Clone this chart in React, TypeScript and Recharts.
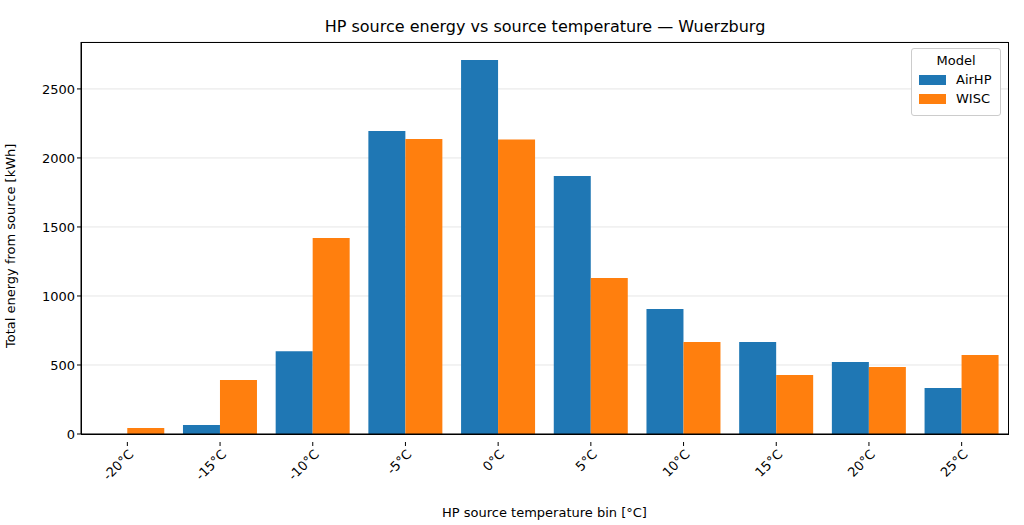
import React from "react";
import { BarChart, Bar, XAxis, YAxis, CartesianGrid } from "recharts";

const categories = ["-20°C", "-15°C", "-10°C", "-5°C", "0°C", "5°C", "10°C", "15°C", "20°C", "25°C"];
const airHP = [0, 65, 600, 2196, 2710, 1870, 906, 667, 522, 333];
const wisc = [43, 391, 1420, 2138, 2133, 1130, 667, 428, 486, 572];
const yTicks = [0, 500, 1000, 1500, 2000, 2500];

const data = categories.map((c, i) => ({ cat: c, AirHP: airHP[i], WISC: wisc[i] }));
const FONT = "DejaVu Sans, sans-serif";

const AngledTick = (props: any) => {
  const { x, y, payload } = props;
  return (
    <g transform={`translate(${x},${y + 6})`}>
      <line x1={0} y1={-6} x2={0} y2={-2} stroke="#000" />
      <text transform="rotate(-45)" textAnchor="end" dy={10} dx={0} fontSize={13} fill="#000" fontFamily={FONT}>
        {payload.value}
      </text>
    </g>
  );
};

export default function App() {
  return (
    <div style={{ position: "absolute", left: 0, top: 0, width: 1024, height: 525, background: "#fff", fontFamily: FONT }}>
      <div style={{ position: "absolute", top: 17, width: 1090, textAlign: "center", fontSize: 16, color: "#000" }}>
        HP source energy vs source temperature — Wuerzburg
      </div>
      <BarChart width={1024} height={525} data={data} margin={{ top: 42, right: 16, bottom: 0, left: 0 }}
        barCategoryGap="10%" barGap={0}>
        <CartesianGrid vertical={false} stroke="#e6e6e6" />
        <XAxis dataKey="cat" height={91} tick={<AngledTick />} tickLine={false} axisLine={{ stroke: "#000" }}
          interval={0}
          label={{ value: "HP source temperature bin [°C]", position: "insideBottom", offset: 8, fontSize: 13, fill: "#000", fontFamily: FONT }} />
        <YAxis width={81} domain={[0, 2840]} ticks={yTicks} tick={{ fontSize: 13, fill: "#000", fontFamily: FONT }}
          tickLine={{ stroke: "#000" }} axisLine={{ stroke: "#000" }} tickSize={4}
          label={{ value: "Total energy from source [kWh]", angle: -90, position: "insideLeft", offset: 10, dy: 110, fontSize: 13, fill: "#000", fontFamily: FONT }} />
        <Bar dataKey="AirHP" fill="#1f77b4" isAnimationActive={false} />
        <Bar dataKey="WISC" fill="#ff7f0e" isAnimationActive={false} />
      </BarChart>
      <div style={{ position: "absolute", left: 81, top: 42, width: 926, height: 391, border: "1px solid #000", pointerEvents: "none" }} />
      <div style={{ position: "absolute", left: 911, top: 48, width: 88, height: 66, border: "1px solid #ccc", borderRadius: 3, background: "#fff", fontSize: 13 }}>
        <div style={{ textAlign: "center", marginTop: 4 }}>Model</div>
        <div style={{ display: "flex", alignItems: "center", marginTop: 4, marginLeft: 7 }}>
          <span style={{ width: 27, height: 10, background: "#1f77b4", display: "inline-block", marginRight: 10 }} />AirHP
        </div>
        <div style={{ display: "flex", alignItems: "center", marginTop: 4, marginLeft: 7 }}>
          <span style={{ width: 27, height: 10, background: "#ff7f0e", display: "inline-block", marginRight: 10 }} />WISC
        </div>
      </div>
    </div>
  );
}
